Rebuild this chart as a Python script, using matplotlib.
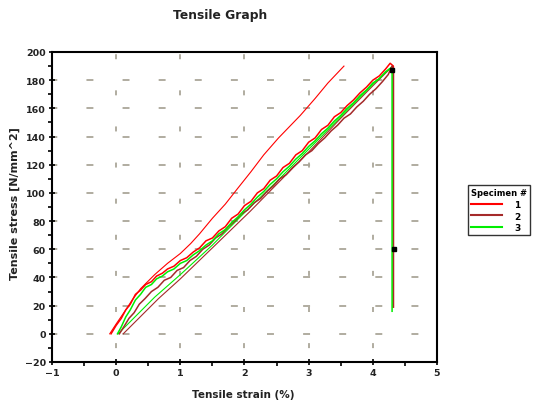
import matplotlib
matplotlib.use("Agg")
import matplotlib.pyplot as plt
from matplotlib.ticker import MultipleLocator
from matplotlib.lines import Line2D

plt.rcParams["font.family"] = ["DejaVu Sans"]
plt.rcParams["lines.scale_dashes"] = False

# Specimen names and colours
specimens = ["1", "2", "3"]
colors = ["#ff0000", "#a52a2a", "#00ee00"]

# Main (measured) curves: strain [%], stress [N/mm^2]
s1_strain = [-0.08, 0.00, 0.08, 0.15, 0.22, 0.30, 0.38, 0.46, 0.55, 0.63,
             0.72, 0.80, 0.90, 1.00, 1.10, 1.20, 1.30, 1.40, 1.50, 1.60,
             1.70, 1.80, 1.90, 2.00, 2.10, 2.20, 2.30, 2.40, 2.50, 2.60,
             2.70, 2.80, 2.90, 3.00, 3.10, 3.20, 3.30, 3.40, 3.50, 3.60,
             3.70, 3.80, 3.90, 4.00, 4.10, 4.20, 4.27, 4.32, 4.32]
s1_stress = [0, 6, 11, 17, 21, 28, 31, 35, 37, 41,
             43, 46, 48, 52, 54, 58, 61, 66, 68, 73,
             76, 82, 85, 91, 94, 100, 103, 109, 112, 118,
             121, 127, 130, 136, 139, 145, 148, 154, 157, 162,
             166, 171, 175, 180, 183, 188, 192, 190, 19]

s2_strain = [0.05, 0.12, 0.20, 0.28, 0.36, 0.45, 0.55, 0.65, 0.75, 0.85,
             0.95, 1.05, 1.15, 1.25, 1.35, 1.45, 1.55, 1.65, 1.75, 1.85,
             1.95, 2.05, 2.15, 2.25, 2.35, 2.45, 2.55, 2.65, 2.75, 2.85,
             2.95, 3.05, 3.15, 3.25, 3.35, 3.45, 3.55, 3.65, 3.75, 3.85,
             3.95, 4.05, 4.15, 4.24, 4.30, 4.32, 4.32]
s2_stress = [0, 5, 11, 15, 21, 25, 30, 33, 38, 40,
             45, 47, 52, 55, 60, 63, 68, 71, 76, 80,
             85, 88, 93, 96, 101, 105, 110, 113, 118, 122,
             127, 130, 135, 139, 144, 148, 153, 156, 161, 165,
             170, 174, 179, 184, 190, 188, 19]

s3_strain = [0.02, 0.08, 0.15, 0.22, 0.30, 0.38, 0.46, 0.55, 0.63, 0.72,
             0.80, 0.90, 1.00, 1.10, 1.20, 1.30, 1.40, 1.50, 1.60, 1.70,
             1.80, 1.90, 2.00, 2.10, 2.20, 2.30, 2.40, 2.50, 2.60, 2.70,
             2.80, 2.90, 3.00, 3.10, 3.20, 3.30, 3.40, 3.50, 3.60, 3.70,
             3.80, 3.90, 4.00, 4.10, 4.20, 4.26, 4.30, 4.30]
s3_stress = [0, 5, 12, 17, 24, 28, 33, 35, 39, 41,
             44, 46, 50, 52, 56, 59, 63, 66, 71, 74,
             79, 83, 88, 92, 97, 101, 106, 110, 115, 119,
             124, 128, 133, 137, 142, 146, 151, 155, 160, 164,
             169, 173, 178, 181, 186, 188, 187, 16]

# Secondary (modulus) lines per specimen
l1_strain = [-0.10, 0.00, 0.15, 0.25, 0.38, 0.60, 0.80, 1.00, 1.16, 1.30,
             1.50, 1.70, 1.89, 2.10, 2.30, 2.53, 2.70, 2.87, 3.10, 3.30, 3.55]
l1_stress = [0, 7, 17, 24, 32, 42, 50, 57, 64, 71,
             82, 92, 103, 115, 127, 139, 147, 155, 167, 178, 190]

l2_strain = [0.11, 0.66, 1.00, 1.50, 2.09, 2.50, 3.00, 3.50, 4.00, 4.31]
l2_stress = [0, 25, 39, 61, 87, 106, 129, 153, 176, 190]

l3_strain = [0.03, 0.60, 1.00, 1.50, 2.00, 2.50, 3.00, 3.50, 4.00, 4.28]
l3_stress = [0, 26, 42, 63, 86, 108, 131, 154, 177, 189]

# Break markers
mark_strain = [4.30, 4.33]
mark_stress = [187, 60]

x_ticks = [-1, 0, 1, 2, 3, 4, 5]
y_ticks = [-20, 0, 20, 40, 60, 80, 100, 120, 140, 160, 180, 200]

fig = plt.figure(figsize=(5.33, 4.06), dpi=100)
ax = fig.add_axes([52 / 533, 1 - 363 / 406, (437 - 52) / 533, (363 - 53) / 406])

grid_col = "#aaa698"
# dashed grid at the major ticks
for yv in y_ticks[1:-1]:
    ax.axhline(yv, color=grid_col, lw=1.3, ls=(1.2, (5.0, 21.0)), zorder=0)
for xv in x_ticks[1:-1]:
    ax.axvline(xv, color=grid_col, lw=1.3, ls=(16.0, (3.6, 22.4)), zorder=0)

curves = [(s1_strain, s1_stress), (s2_strain, s2_stress), (s3_strain, s3_stress)]
lines = [(l1_strain, l1_stress), (l2_strain, l2_stress), (l3_strain, l3_stress)]
for (lx, ly), (cx, cy), col in zip(lines, curves, colors):
    ax.plot(lx, ly, color=col, lw=0.8, zorder=2)
    ax.plot(cx, cy, color=col, lw=1.1, zorder=3)

ax.plot(mark_strain, mark_stress, ls="none", marker="s", ms=3.0, color="black", zorder=5)

ax.set_xlim(-1, 5)
ax.set_ylim(-20, 200)
ax.set_xticks(x_ticks)
ax.set_yticks(y_ticks)
ax.xaxis.set_minor_locator(MultipleLocator(0.5))
ax.yaxis.set_minor_locator(MultipleLocator(10))
ax.tick_params(which="major", direction="inout", length=5, width=1.2, labelsize=6.8, pad=2)
ax.tick_params(which="minor", direction="out", length=3, width=1.2)
for lab in ax.get_xticklabels() + ax.get_yticklabels():
    lab.set_fontweight("bold")
    lab.set_color("#222222")
for sp in ax.spines.values():
    sp.set_linewidth(1.5)
    sp.set_color("black")

fig.text(220 / 533, 1 - 15 / 406, "Tensile Graph", ha="center", va="center",
         fontsize=8.8, fontweight="bold", color="#222222")
fig.text(243 / 533, 1 - 395 / 406, "Tensile strain (%)", ha="center", va="center",
         fontsize=7.5, fontweight="bold", color="#222222")
fig.text(15 / 533, 1 - 204 / 406, "Tensile stress [N/mm^2]", ha="center", va="center",
         rotation=90, fontsize=8, fontweight="bold", color="#222222")

handles = [Line2D([0], [0], color=c, lw=1.5) for c in colors]
leg = fig.legend(handles, specimens, title="Specimen #", loc="upper left",
                 bbox_to_anchor=(468 / 533, 1 - 186 / 406), fontsize=6.5,
                 title_fontsize=6.0, alignment="left", handlelength=3.4,
                 handletextpad=1.4, labelspacing=0.3, borderpad=0.35,
                 frameon=True, fancybox=False, borderaxespad=0)
leg.get_frame().set_edgecolor("black")
leg.get_frame().set_linewidth(1.0)
for t in leg.get_texts():
    t.set_fontweight("bold")
leg.get_title().set_fontweight("bold")

fig.savefig("out.png", dpi=100)
